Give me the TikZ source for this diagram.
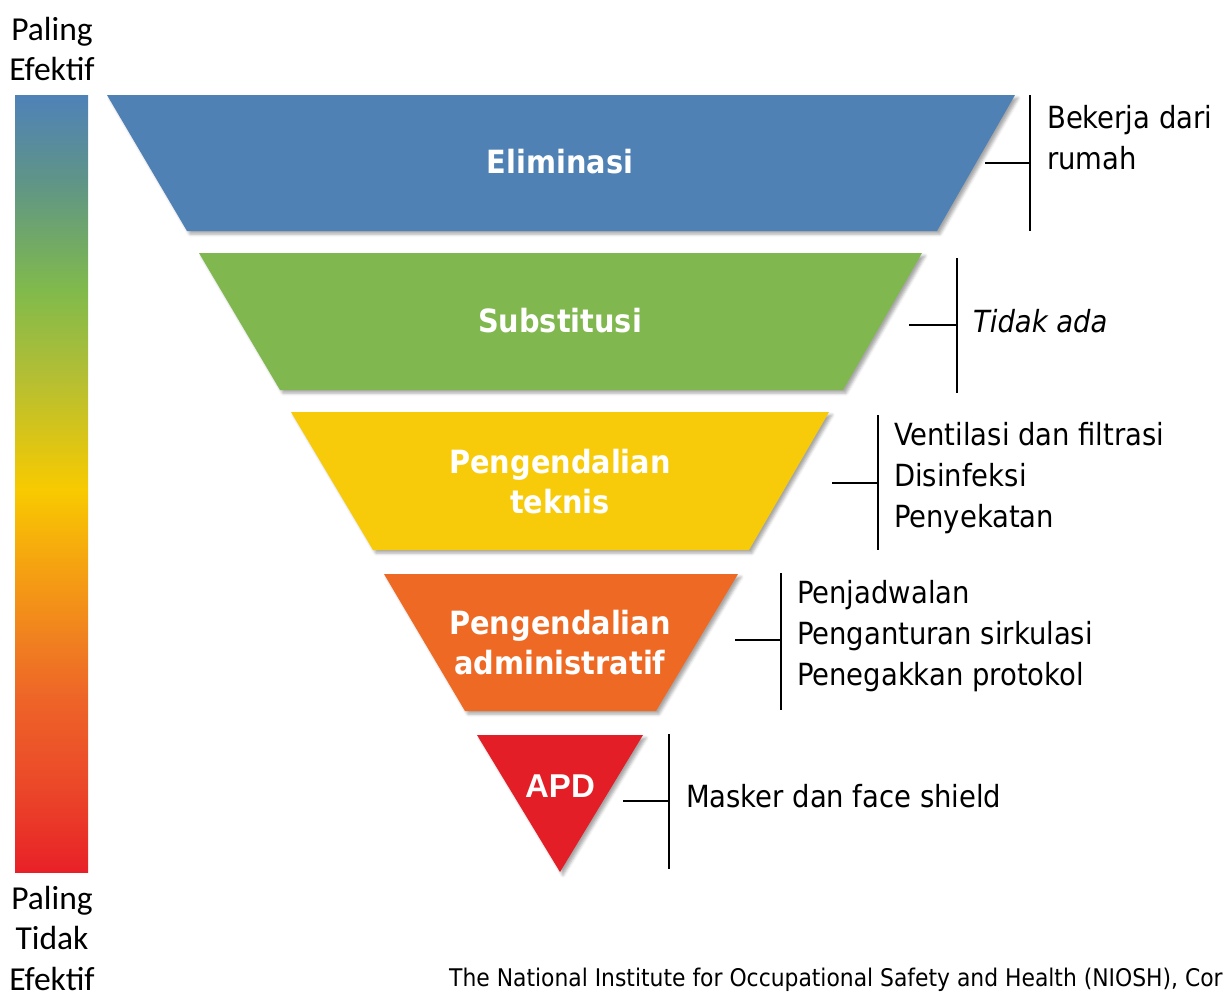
\documentclass[tikz,border=0pt]{standalone}
\usepackage{fontspec}
\usetikzlibrary{shadows.blur}
\setmainfont{DejaVu Sans Condensed}
\newfontfamily\sidefont{Carlito}
\newfontfamily\apdfont{Liberation Sans}

\definecolor{elimblue}{HTML}{4F81B4}
\definecolor{subgreen}{HTML}{80B74F}
\definecolor{tekyellow}{HTML}{F8CB0A}
\definecolor{admorange}{HTML}{EE6A24}
\definecolor{apdred}{HTML}{E31E26}

\definecolor{barred}{HTML}{E82128}
\definecolor{barredor}{HTML}{EB4A29}
\definecolor{barorred}{HTML}{EE6428}
\definecolor{barorange}{HTML}{F08020}
\definecolor{baramber}{HTML}{F5A012}
\definecolor{baryellow}{HTML}{F8CA00}
\definecolor{barlime}{HTML}{B0BE36}
\definecolor{bargreen}{HTML}{80BA4C}
\definecolor{barteal}{HTML}{5F9488}
\definecolor{barblue}{HTML}{4F82B8}

% effectiveness scale, red (bottom) to blue (top); the path fits 25bp..75bp
\pgfdeclareverticalshading{effbar}{100bp}{%
  color(0bp)=(barred);
  color(25bp)=(barred);
  color(30.9bp)=(barredor);
  color(36.1bp)=(barorred);
  color(39.9bp)=(barorange);
  color(44.4bp)=(baramber);
  color(49.6bp)=(baryellow);
  color(57.3bp)=(barlime);
  color(62.5bp)=(bargreen);
  color(69.5bp)=(barteal);
  color(75bp)=(barblue);
  color(100bp)=(barblue)}

\tikzset{
  level/.style={blur shadow={shadow xshift=3pt, shadow yshift=-3pt,
      shadow blur radius=3pt, shadow opacity=35}},
  levellabel/.style={text=white, font=\bfseries\fontsize{32}{40}\selectfont,
      align=center, inner sep=0pt},
  bracket/.style={line width=2.6pt, black},
  note/.style={anchor=west, align=left, inner sep=0pt,
      font=\fontsize{30.5}{41}\selectfont},
  sidelabel/.style={align=center, inner sep=0pt,
      font=\sidefont\fontsize{33.5}{40.5}\selectfont}
}

\begin{document}
\begin{tikzpicture}[x=1pt, y=-1pt]
\useasboundingbox (0,0) rectangle (1224,996);

% scale bar
\shade[shading=effbar] (15,95) rectangle (88,872);
\node[sidelabel] (top) at (52,49) {Paling\\Efektif};
\node[sidelabel] (bottom) at (52,938) {Paling\\Tidak\\Efektif};

% hierarchy levels
\fill[elimblue, level] (107,95) -- (1015,95) -- (937,231) -- (187,231) -- cycle;
\fill[subgreen, level] (199,253) -- (922,253) -- (843,390) -- (280,390) -- cycle;
\fill[tekyellow, level] (291,412) -- (829,412) -- (749,550) -- (373,550) -- cycle;
\fill[admorange, level] (384,574) -- (738,574) -- (656,711) -- (465,711) -- cycle;
\fill[apdred, level] (477,735) -- (643,735) -- (560,872) -- cycle;

\node[levellabel] (elim) at (560,162) {Eliminasi};
\node[levellabel] (subs) at (560,321) {Substitusi};
\node[levellabel] (tek) at (560,482) {Pengendalian\\teknis};
\node[levellabel] (adm) at (560,643) {Pengendalian\\administratif};
\node[levellabel, font=\apdfont\bfseries\fontsize{33}{40}\selectfont] (apd) at (560,786) {APD};

% brackets
\coordinate (e1) at (985,163); \coordinate (e2) at (1030,163);
\draw[bracket] (1030,95) -- (1030,231);
\draw[bracket] (e1) -- (e2);
\coordinate (s1) at (909,325); \coordinate (s2) at (957,325);
\draw[bracket] (957,258) -- (957,393);
\draw[bracket] (s1) -- (s2);
\coordinate (t1) at (832,483); \coordinate (t2) at (878,483);
\draw[bracket] (878,415) -- (878,550);
\draw[bracket] (t1) -- (t2);
\coordinate (a1) at (735,640); \coordinate (a2) at (781,640);
\draw[bracket] (781,573) -- (781,710);
\draw[bracket] (a1) -- (a2);
\coordinate (p1) at (623,801); \coordinate (p2) at (669,801);
\draw[bracket] (669,734) -- (669,869);
\draw[bracket] (p1) -- (p2);

% examples
\node[note] (elimnote) at (1047,138) {Bekerja dari\\rumah};
\node[note, font=\itshape\fontsize{30.5}{41}\selectfont] (subsnote) at (973,321) {Tidak ada};
\node[note] (teknote) at (894,478) {Ventilasi dan filtrasi\\Disinfeksi\\Penyekatan};
\node[note] (admnote) at (797,636) {Penjadwalan\\Penganturan sirkulasi\\Penegakkan protokol};
\node[note] (apdnote) at (686,796) {Masker dan face shield};

% source
\node[anchor=west, inner sep=0pt, font=\fontsize{24.3}{28}\selectfont] (src) at (449,980)
  {The National Institute for Occupational Safety and Health (NIOSH), Cor};
\end{tikzpicture}
\end{document}
